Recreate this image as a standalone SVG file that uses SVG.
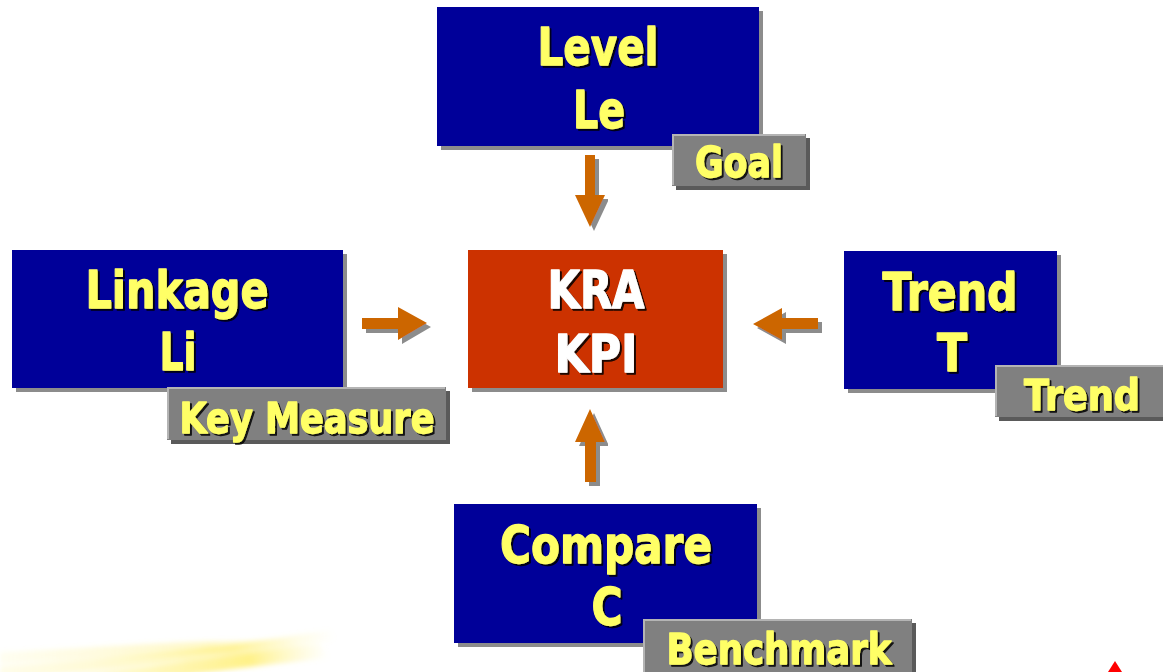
<svg xmlns="http://www.w3.org/2000/svg" width="1163" height="672" viewBox="0 0 1163 672">
<defs>
<style>
.main{fill:#000099}
.core{fill:#CC3300}
.sub{fill:#808080}
.hl{stroke:#B4B4B4;stroke-width:2;fill:none}
.arrow{fill:#CC6600}
.t{font-family:"DejaVu Sans",sans-serif;font-weight:bold;text-anchor:middle;stroke-width:1.3;stroke-linejoin:round}
.big{font-size:51px}
.small{font-size:42px}
.y{fill:#FFFF66;stroke:#FFFF66}
.w{fill:#FFFFFF;stroke:#FFFFFF}
</style>
<filter id="sh" x="-5%" y="-5%" width="115%" height="125%">
<feOffset in="SourceAlpha" dx="4" dy="4" result="o"/>
<feFlood flood-color="#8C8C8C"/>
<feComposite in2="o" operator="in" result="s"/>
<feMerge><feMergeNode in="s"/><feMergeNode in="SourceGraphic"/></feMerge>
</filter>
<filter id="shd" x="-5%" y="-5%" width="115%" height="125%">
<feOffset in="SourceAlpha" dx="4" dy="4" result="o"/>
<feFlood flood-color="#5A5A5A"/>
<feComposite in2="o" operator="in" result="s"/>
<feMerge><feMergeNode in="s"/><feMergeNode in="SourceGraphic"/></feMerge>
</filter>
<filter id="tsh" x="-5%" y="-10%" width="115%" height="130%">
<feOffset in="SourceAlpha" dx="2" dy="2" result="o"/>
<feGaussianBlur in="o" stdDeviation="0.6" result="b"/>
<feFlood flood-color="#000000" flood-opacity="0.85"/>
<feComposite in2="b" operator="in" result="s"/>
<feMerge><feMergeNode in="s"/><feMergeNode in="SourceGraphic"/></feMerge>
</filter>
<filter id="blur" x="-20%" y="-50%" width="140%" height="200%">
<feGaussianBlur stdDeviation="2.5"/>
</filter>
<linearGradient id="sw" x1="0" y1="0" x2="1" y2="0">
<stop offset="0" stop-color="#FFF59A" stop-opacity="0.3"/>
<stop offset="0.7" stop-color="#FFEC60" stop-opacity="0.75"/>
<stop offset="1" stop-color="#FFF59A" stop-opacity="0"/>
</linearGradient>
</defs>
<rect width="1163" height="672" fill="#FFFFFF"/>

<g id="background">
<g filter="url(#blur)">
<path d="M0,652 C90,648 180,640 290,640 L300,648 C200,652 100,660 0,664 Z" fill="url(#sw)" opacity="0.5"/>
<path d="M0,666 C110,660 220,648 330,630 L336,640 C240,656 120,668 40,676 L0,676 Z" fill="url(#sw)" opacity="0.7"/>
<path d="M60,676 C160,666 250,652 320,644 L330,658 C270,664 210,672 180,676 Z" fill="url(#sw)"/>
</g>
<polygon points="1115,661 1108,672 1122,672" fill="#FF0000"/>
</g>

<g id="connectors">
<polygon class="arrow" filter="url(#sh)" points="585,155 595,155 595,195 605,195 590,227 575,195 585,195"/>
<polygon class="arrow" filter="url(#sh)" points="362,318 398,318 398,307 427,323 398,340 398,329 362,329"/>
<polygon class="arrow" filter="url(#sh)" points="818,318 782,318 782,308 753,324 782,340 782,329 818,329"/>
<polygon class="arrow" filter="url(#sh)" points="585,482 596,482 596,442 605,442 590,409 575,442 585,442"/>
</g>

<g id="node-kra">
<rect class="core" filter="url(#sh)" x="468" y="250" width="255" height="138"/>
<g filter="url(#tsh)">
<text class="t big w" x="596" y="308" textLength="97" lengthAdjust="spacingAndGlyphs">KRA</text>
<text class="t big w" x="596" y="372" textLength="83" lengthAdjust="spacingAndGlyphs">KPI</text>
</g>
</g>

<g id="node-level">
<rect class="main" filter="url(#sh)" x="437" y="7" width="322" height="139"/>
<g filter="url(#tsh)">
<text class="t big y" x="598" y="65" textLength="121" lengthAdjust="spacingAndGlyphs">Level</text>
<text class="t big y" x="599" y="128" textLength="52" lengthAdjust="spacingAndGlyphs">Le</text>
</g>
<rect class="sub" filter="url(#shd)" x="672" y="134" width="134" height="52"/>
<polyline class="hl" points="673,185 673,135 805,135"/>
<text class="t small y" filter="url(#tsh)" x="739" y="177" textLength="88" lengthAdjust="spacingAndGlyphs">Goal</text>
</g>

<g id="node-linkage">
<rect class="main" filter="url(#sh)" x="12" y="250" width="331" height="138"/>
<g filter="url(#tsh)">
<text class="t big y" x="177" y="308" textLength="183" lengthAdjust="spacingAndGlyphs">Linkage</text>
<text class="t big y" x="178" y="370" textLength="37" lengthAdjust="spacingAndGlyphs">Li</text>
</g>
<rect class="sub" filter="url(#shd)" x="167" y="387" width="279" height="53"/>
<polyline class="hl" points="168,439 168,388 445,388"/>
<text class="t small y" filter="url(#tsh)" x="307" y="433" textLength="255" lengthAdjust="spacingAndGlyphs">Key Measure</text>
</g>

<g id="node-trend">
<rect class="main" filter="url(#sh)" x="844" y="251" width="213" height="138"/>
<g filter="url(#tsh)">
<text class="t big y" x="950" y="310" textLength="135" lengthAdjust="spacingAndGlyphs">Trend</text>
<text class="t big y" x="952" y="371" textLength="30" lengthAdjust="spacingAndGlyphs">T</text>
</g>
<rect class="sub" filter="url(#shd)" x="995" y="365" width="168" height="52"/>
<polyline class="hl" points="996,416 996,366 1163,366"/>
<text class="t small y" filter="url(#tsh)" x="1082" y="410" textLength="116" lengthAdjust="spacingAndGlyphs">Trend</text>
</g>

<g id="node-compare">
<rect class="main" filter="url(#sh)" x="454" y="504" width="303" height="139"/>
<g filter="url(#tsh)">
<text class="t big y" x="606" y="563" textLength="212" lengthAdjust="spacingAndGlyphs">Compare</text>
<text class="t big y" x="607" y="625" textLength="31" lengthAdjust="spacingAndGlyphs">C</text>
</g>
<rect class="sub" filter="url(#shd)" x="643" y="619" width="269" height="60"/>
<polyline class="hl" points="644,672 644,620 911,620"/>
<text class="t small y" filter="url(#tsh)" x="779" y="664" textLength="225" lengthAdjust="spacingAndGlyphs">Benchmark</text>
</g>
</svg>
